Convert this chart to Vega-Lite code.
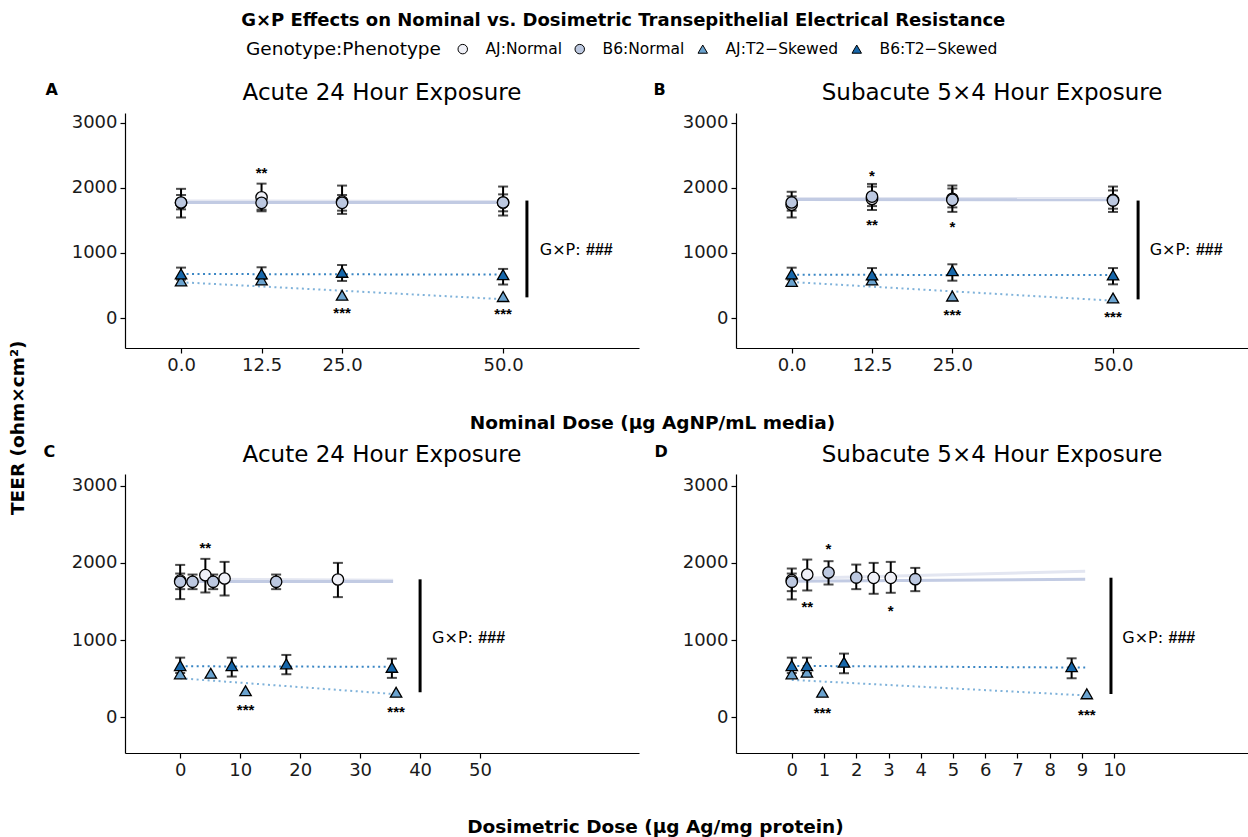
{
  "$schema": "https://vega.github.io/schema/vega-lite/v6.json",
  "padding": {"left": 8, "top": 12, "right": 0, "bottom": 0},
  "background": "white",
  "title": {"text": "G×P Effects on Nominal vs. Dosimetric Transepithelial Electrical Resistance", "fontSize": 18, "fontWeight": "bold", "anchor": "middle", "offset": 11, "dx": -5, "color": "black"},
  "datasets": {
    "pts": [
      {"p": "A", "g": "AJ:Normal", "x": 0, "y": 1770, "lo": 1545, "hi": 1985},
      {"p": "A", "g": "AJ:Normal", "x": 12.5, "y": 1855, "lo": 1640, "hi": 2065},
      {"p": "A", "g": "AJ:Normal", "x": 25, "y": 1790, "lo": 1600, "hi": 2035},
      {"p": "A", "g": "AJ:Normal", "x": 50, "y": 1775, "lo": 1575, "hi": 2020},
      {"p": "A", "g": "B6:Normal", "x": 0, "y": 1775, "lo": 1670, "hi": 1890},
      {"p": "A", "g": "B6:Normal", "x": 12.5, "y": 1770, "lo": 1665, "hi": 1880},
      {"p": "A", "g": "B6:Normal", "x": 25, "y": 1770, "lo": 1650, "hi": 1890},
      {"p": "A", "g": "B6:Normal", "x": 50, "y": 1775, "lo": 1640, "hi": 1900},
      {"p": "A", "g": "AJ:T2−Skewed", "x": 0, "y": 570},
      {"p": "A", "g": "AJ:T2−Skewed", "x": 12.5, "y": 585},
      {"p": "A", "g": "AJ:T2−Skewed", "x": 25, "y": 350},
      {"p": "A", "g": "AJ:T2−Skewed", "x": 50, "y": 330},
      {"p": "A", "g": "B6:T2−Skewed", "x": 0, "y": 677, "lo": 590, "hi": 775},
      {"p": "A", "g": "B6:T2−Skewed", "x": 12.5, "y": 677, "lo": 600, "hi": 780},
      {"p": "A", "g": "B6:T2−Skewed", "x": 25, "y": 703, "lo": 570, "hi": 815},
      {"p": "A", "g": "B6:T2−Skewed", "x": 50, "y": 667, "lo": 515, "hi": 755},

      {"p": "B", "g": "AJ:Normal", "x": 0, "y": 1740, "lo": 1545, "hi": 1940},
      {"p": "B", "g": "AJ:Normal", "x": 12.5, "y": 1830, "lo": 1720, "hi": 2020},
      {"p": "B", "g": "AJ:Normal", "x": 25, "y": 1831, "lo": 1631, "hi": 2036},
      {"p": "B", "g": "AJ:Normal", "x": 50, "y": 1815, "lo": 1630, "hi": 2020},
      {"p": "B", "g": "B6:Normal", "x": 0, "y": 1775, "lo": 1650, "hi": 1870},
      {"p": "B", "g": "B6:Normal", "x": 12.5, "y": 1866, "lo": 1660, "hi": 2060},
      {"p": "B", "g": "B6:Normal", "x": 25, "y": 1815, "lo": 1700, "hi": 1990},
      {"p": "B", "g": "B6:Normal", "x": 50, "y": 1805, "lo": 1680, "hi": 1960},
      {"p": "B", "g": "AJ:T2−Skewed", "x": 0, "y": 562},
      {"p": "B", "g": "AJ:T2−Skewed", "x": 12.5, "y": 585},
      {"p": "B", "g": "AJ:T2−Skewed", "x": 25, "y": 338},
      {"p": "B", "g": "AJ:T2−Skewed", "x": 50, "y": 308},
      {"p": "B", "g": "B6:T2−Skewed", "x": 0, "y": 677, "lo": 590, "hi": 774},
      {"p": "B", "g": "B6:T2−Skewed", "x": 12.5, "y": 662, "lo": 590, "hi": 768},
      {"p": "B", "g": "B6:T2−Skewed", "x": 25, "y": 728, "lo": 574, "hi": 826},
      {"p": "B", "g": "B6:T2−Skewed", "x": 50, "y": 662, "lo": 518, "hi": 768},

      {"p": "C", "g": "AJ:Normal", "x": 0, "y": 1770, "lo": 1531, "hi": 1974},
      {"p": "C", "g": "AJ:Normal", "x": 4.2, "y": 1841, "lo": 1617, "hi": 2052},
      {"p": "C", "g": "AJ:Normal", "x": 7.4, "y": 1798, "lo": 1578, "hi": 2013},
      {"p": "C", "g": "AJ:Normal", "x": 26.3, "y": 1785, "lo": 1557, "hi": 2000},
      {"p": "C", "g": "B6:Normal", "x": 0, "y": 1755, "lo": 1660, "hi": 1862},
      {"p": "C", "g": "B6:Normal", "x": 2.06, "y": 1755, "lo": 1660, "hi": 1849},
      {"p": "C", "g": "B6:Normal", "x": 5.5, "y": 1755, "lo": 1660, "hi": 1849},
      {"p": "C", "g": "B6:Normal", "x": 16.0, "y": 1755, "lo": 1660, "hi": 1849},
      {"p": "C", "g": "AJ:T2−Skewed", "x": 0, "y": 564},
      {"p": "C", "g": "AJ:T2−Skewed", "x": 5.1, "y": 572},
      {"p": "C", "g": "AJ:T2−Skewed", "x": 10.9, "y": 345},
      {"p": "C", "g": "AJ:T2−Skewed", "x": 36.0, "y": 326},
      {"p": "C", "g": "B6:T2−Skewed", "x": 0, "y": 671, "lo": 575, "hi": 774},
      {"p": "C", "g": "B6:T2−Skewed", "x": 8.6, "y": 671, "lo": 529, "hi": 774},
      {"p": "C", "g": "B6:T2−Skewed", "x": 17.7, "y": 693, "lo": 559, "hi": 809},
      {"p": "C", "g": "B6:T2−Skewed", "x": 35.3, "y": 649, "lo": 512, "hi": 761},

      {"p": "D", "g": "AJ:Normal", "x": 0, "y": 1776, "lo": 1527, "hi": 1927},
      {"p": "D", "g": "AJ:Normal", "x": 0.48, "y": 1849, "lo": 1643, "hi": 2043},
      {"p": "D", "g": "AJ:Normal", "x": 2.54, "y": 1806, "lo": 1600, "hi": 2000},
      {"p": "D", "g": "AJ:Normal", "x": 3.07, "y": 1806, "lo": 1613, "hi": 2013},
      {"p": "D", "g": "B6:Normal", "x": 0, "y": 1755, "lo": 1634, "hi": 1862},
      {"p": "D", "g": "B6:Normal", "x": 1.14, "y": 1875, "lo": 1720, "hi": 2022},
      {"p": "D", "g": "B6:Normal", "x": 2.0, "y": 1810, "lo": 1660, "hi": 1978},
      {"p": "D", "g": "B6:Normal", "x": 3.83, "y": 1789, "lo": 1634, "hi": 1935},
      {"p": "D", "g": "AJ:T2−Skewed", "x": 0, "y": 564},
      {"p": "D", "g": "AJ:T2−Skewed", "x": 0.47, "y": 585},
      {"p": "D", "g": "AJ:T2−Skewed", "x": 0.95, "y": 326},
      {"p": "D", "g": "AJ:T2−Skewed", "x": 9.15, "y": 306},
      {"p": "D", "g": "B6:T2−Skewed", "x": 0, "y": 671, "lo": 575, "hi": 774},
      {"p": "D", "g": "B6:T2−Skewed", "x": 0.47, "y": 671, "lo": 575, "hi": 774},
      {"p": "D", "g": "B6:T2−Skewed", "x": 1.62, "y": 714, "lo": 572, "hi": 826},
      {"p": "D", "g": "B6:T2−Skewed", "x": 8.68, "y": 658, "lo": 507, "hi": 765}
    ],
    "lines": [
      {"p": "A", "grp": "AJ:Normal", "x": 0, "y": 1800}, {"p": "A", "grp": "AJ:Normal", "x": 50, "y": 1790},
      {"p": "A", "grp": "B6:Normal", "x": 0, "y": 1775}, {"p": "A", "grp": "B6:Normal", "x": 50, "y": 1775},
      {"p": "A", "grp": "AJ:T2−Skewed", "x": 0, "y": 550}, {"p": "A", "grp": "AJ:T2−Skewed", "x": 50, "y": 290},
      {"p": "A", "grp": "B6:T2−Skewed", "x": 0, "y": 677}, {"p": "A", "grp": "B6:T2−Skewed", "x": 50, "y": 667},
      {"p": "B", "grp": "AJ:Normal", "x": 0, "y": 1835}, {"p": "B", "grp": "AJ:Normal", "x": 50, "y": 1835},
      {"p": "B", "grp": "B6:Normal", "x": 0, "y": 1822}, {"p": "B", "grp": "B6:Normal", "x": 50, "y": 1818},
      {"p": "B", "grp": "AJ:T2−Skewed", "x": 0, "y": 554}, {"p": "B", "grp": "AJ:T2−Skewed", "x": 50, "y": 267},
      {"p": "B", "grp": "B6:T2−Skewed", "x": 0, "y": 664}, {"p": "B", "grp": "B6:T2−Skewed", "x": 50, "y": 662},
      {"p": "C", "grp": "AJ:Normal", "x": 0, "y": 1790}, {"p": "C", "grp": "AJ:Normal", "x": 35.5, "y": 1775},
      {"p": "C", "grp": "B6:Normal", "x": 0, "y": 1760}, {"p": "C", "grp": "B6:Normal", "x": 35.5, "y": 1760},
      {"p": "C", "grp": "AJ:T2−Skewed", "x": 0, "y": 507}, {"p": "C", "grp": "AJ:T2−Skewed", "x": 36, "y": 301},
      {"p": "C", "grp": "B6:T2−Skewed", "x": 0, "y": 662}, {"p": "C", "grp": "B6:T2−Skewed", "x": 35.5, "y": 655},
      {"p": "D", "grp": "AJ:Normal", "x": 0, "y": 1798}, {"p": "D", "grp": "AJ:Normal", "x": 9.1, "y": 1892},
      {"p": "D", "grp": "B6:Normal", "x": 0, "y": 1763}, {"p": "D", "grp": "B6:Normal", "x": 9.1, "y": 1789},
      {"p": "D", "grp": "AJ:T2−Skewed", "x": 0, "y": 486}, {"p": "D", "grp": "AJ:T2−Skewed", "x": 9.15, "y": 284},
      {"p": "D", "grp": "B6:T2−Skewed", "x": 0, "y": 667}, {"p": "D", "grp": "B6:T2−Skewed", "x": 9.1, "y": 645}
    ],
    "gxp": [
      {"p": "A", "bx": 53.7, "b1": 318, "b2": 1805, "tx": 55.7, "ty": 1046, "t1": "G×P:", "t2": "###"},
      {"p": "B", "bx": 53.9, "b1": 287, "b2": 1805, "tx": 55.7, "ty": 1046, "t1": "G×P:", "t2": "###"},
      {"p": "C", "bx": 40, "b1": 326, "b2": 1787, "tx": 42, "ty": 1032, "t1": "G×P:", "t2": "###"},
      {"p": "D", "bx": 9.9, "b1": 303, "b2": 1808, "tx": 10.25, "ty": 1032, "t1": "G×P:", "t2": "###"}
    ],
    "sig": [
      {"p": "A", "x": 12.5, "y": 2290, "s": "**"},
      {"p": "A", "x": 25, "y": 138, "s": "***"},
      {"p": "A", "x": 50, "y": 123, "s": "***"},
      {"p": "B", "x": 12.5, "y": 2251, "s": "*"},
      {"p": "B", "x": 12.5, "y": 1497, "s": "**"},
      {"p": "B", "x": 25, "y": 1456, "s": "*"},
      {"p": "B", "x": 25, "y": 112, "s": "***"},
      {"p": "B", "x": 50, "y": 72, "s": "***"},
      {"p": "C", "x": 4.2, "y": 2249, "s": "**"},
      {"p": "C", "x": 10.9, "y": 142, "s": "***"},
      {"p": "C", "x": 36, "y": 120, "s": "***"},
      {"p": "D", "x": 0.48, "y": 1475, "s": "**"},
      {"p": "D", "x": 1.14, "y": 2228, "s": "*"},
      {"p": "D", "x": 3.07, "y": 1432, "s": "*"},
      {"p": "D", "x": 0.95, "y": 112, "s": "***"},
      {"p": "D", "x": 9.15, "y": 86, "s": "***"}
    ]
  },
  "vconcat": [
    {
      "title": {"text": "TEER (ohm×cm²)", "orient": "left", "fontSize": 18.5, "fontWeight": "bold", "anchor": "middle", "offset": 16, "dx": 31, "color": "black"},
      "spacing": 10,
      "vconcat": [
        {
          "title": {"text": "Nominal Dose (μg AgNP/mL media)", "orient": "bottom", "fontSize": 18.5, "fontWeight": "bold", "anchor": "middle", "offset": 40, "dx": 6, "color": "black"},
          "bounds": "flush",
          "spacing": 97,
          "hconcat": [
            {
              "width": 514, "height": 235,
              "title": {"text": "Acute 24 Hour Exposure"},
              "layer": [
                {"data": {"name": "lines"}, "transform": [{"filter": "datum.p === 'A' && indexof(datum.grp, 'Normal') >= 0"}],
                 "mark": {"type": "line", "strokeWidth": 3},
                 "encoding": {
                   "x": {"field": "x", "type": "quantitative", "scale": {"domain": [-8.7, 71.1], "nice": false, "zero": false}, "axis": {"values": [0, 12.5, 25, 50], "format": ".1f", "title": null}},
                   "y": {"field": "y", "type": "quantitative", "scale": {"domain": [-460, 3150], "nice": false, "zero": false}, "axis": {"values": [0, 1000, 2000, 3000], "format": "d", "title": "A", "titleX": -80, "titleY": -19}},
                   "stroke": {"field": "grp", "type": "nominal", "scale": {"range": ["#e3e6f1", "#7fb2da", "#c2cbe3", "#3a86c4"]}, "legend": null}
                 }},
                {"data": {"name": "lines"}, "transform": [{"filter": "datum.p === 'A' && indexof(datum.grp, 'T2') >= 0"}],
                 "mark": {"type": "line", "strokeWidth": 2, "strokeDash": [2, 3.5]},
                 "encoding": {"x": {"field": "x", "type": "quantitative"}, "y": {"field": "y", "type": "quantitative"}, "stroke": {"field": "grp", "type": "nominal", "legend": null}}},
                {"data": {"name": "gxp"}, "transform": [{"filter": "datum.p === 'A'"}],
                 "mark": {"type": "rule", "strokeWidth": 3, "color": "black"},
                 "encoding": {"x": {"field": "bx", "type": "quantitative"}, "y": {"field": "b1", "type": "quantitative"}, "y2": {"field": "b2"}}},
                {"data": {"name": "gxp"}, "transform": [{"filter": "datum.p === 'A'"}],
                 "mark": {"type": "text", "fontSize": 16, "align": "left", "baseline": "middle", "color": "black"},
                 "encoding": {"x": {"field": "tx", "type": "quantitative"}, "y": {"field": "ty", "type": "quantitative"}, "text": {"field": "t1"}}},
                {"data": {"name": "gxp"}, "transform": [{"filter": "datum.p === 'A'"}],
                 "mark": {"type": "text", "font": "Liberation Sans", "fontSize": 16, "fontWeight": "bold", "fontStyle": "italic", "align": "left", "baseline": "middle", "dx": 46, "color": "black"},
                 "encoding": {"x": {"field": "tx", "type": "quantitative"}, "y": {"field": "ty", "type": "quantitative"}, "text": {"field": "t2"}}},
                {"data": {"name": "pts"}, "transform": [{"filter": "datum.p === 'A' && datum.lo != null"}],
                 "mark": {"type": "rule", "strokeWidth": 2, "color": "black"},
                 "encoding": {"x": {"field": "x", "type": "quantitative"}, "y": {"field": "lo", "type": "quantitative"}, "y2": {"field": "hi"}}},
                {"data": {"name": "pts"}, "transform": [{"filter": "datum.p === 'A' && datum.lo != null"}],
                 "mark": {"type": "tick", "orient": "horizontal", "size": 10, "thickness": 2, "color": "black"},
                 "encoding": {"x": {"field": "x", "type": "quantitative"}, "y": {"field": "lo", "type": "quantitative"}}},
                {"data": {"name": "pts"}, "transform": [{"filter": "datum.p === 'A' && datum.lo != null"}],
                 "mark": {"type": "tick", "orient": "horizontal", "size": 10, "thickness": 2, "color": "black"},
                 "encoding": {"x": {"field": "x", "type": "quantitative"}, "y": {"field": "hi", "type": "quantitative"}}},
                {"data": {"name": "pts"}, "transform": [{"filter": "datum.p === 'A'"}],
                 "mark": {"type": "point", "filled": true, "size": 130, "stroke": "black", "strokeWidth": 1.3, "opacity": 1},
                 "encoding": {
                   "x": {"field": "x", "type": "quantitative"}, "y": {"field": "y", "type": "quantitative"},
                   "fill": {"field": "g", "type": "nominal", "title": "Genotype:Phenotype", "scale": {"domain": ["AJ:Normal", "B6:Normal", "AJ:T2−Skewed", "B6:T2−Skewed"], "range": ["#eff0f7", "#bcc8e0", "#6ba3cf", "#1767aa"]}, "legend": {"symbolStrokeColor": "black", "symbolStrokeWidth": 1, "encode": {"symbols": {"update": {"stroke": {"value": "black"}, "strokeWidth": {"value": 1}}}}}},
                   "shape": {"field": "g", "type": "nominal", "title": "Genotype:Phenotype", "scale": {"domain": ["AJ:Normal", "B6:Normal", "AJ:T2−Skewed", "B6:T2−Skewed"], "range": ["circle", "circle", "triangle-up", "triangle-up"]}}
                 }},
                {"data": {"name": "sig"}, "transform": [{"filter": "datum.p === 'A'"}],
                 "mark": {"type": "text", "font": "Liberation Sans", "fontSize": 15, "fontWeight": "bold", "baseline": "middle", "dy": 4, "color": "black"},
                 "encoding": {"x": {"field": "x", "type": "quantitative"}, "y": {"field": "y", "type": "quantitative"}, "text": {"field": "s"}}}
              ]
            },
            {
              "width": 512, "height": 235,
              "title": {"text": "Subacute 5×4 Hour Exposure"},
              "layer": [
                {"data": {"name": "lines"}, "transform": [{"filter": "datum.p === 'B' && indexof(datum.grp, 'Normal') >= 0"}],
                 "mark": {"type": "line", "strokeWidth": 3},
                 "encoding": {
                   "x": {"field": "x", "type": "quantitative", "scale": {"domain": [-8.66, 71.0], "nice": false, "zero": false}, "axis": {"values": [0, 12.5, 25, 50], "format": ".1f", "title": null}},
                   "y": {"field": "y", "type": "quantitative", "scale": {"domain": [-460, 3150], "nice": false, "zero": false}, "axis": {"values": [0, 1000, 2000, 3000], "format": "d", "title": "B", "titleX": -83, "titleY": -19}},
                   "stroke": {"field": "grp", "type": "nominal", "legend": null}
                 }},
                {"data": {"name": "lines"}, "transform": [{"filter": "datum.p === 'B' && indexof(datum.grp, 'T2') >= 0"}],
                 "mark": {"type": "line", "strokeWidth": 2, "strokeDash": [2, 3.5]},
                 "encoding": {"x": {"field": "x", "type": "quantitative"}, "y": {"field": "y", "type": "quantitative"}, "stroke": {"field": "grp", "type": "nominal", "legend": null}}},
                {"data": {"name": "gxp"}, "transform": [{"filter": "datum.p === 'B'"}],
                 "mark": {"type": "rule", "strokeWidth": 3, "color": "black"},
                 "encoding": {"x": {"field": "bx", "type": "quantitative"}, "y": {"field": "b1", "type": "quantitative"}, "y2": {"field": "b2"}}},
                {"data": {"name": "gxp"}, "transform": [{"filter": "datum.p === 'B'"}],
                 "mark": {"type": "text", "fontSize": 16, "align": "left", "baseline": "middle", "color": "black"},
                 "encoding": {"x": {"field": "tx", "type": "quantitative"}, "y": {"field": "ty", "type": "quantitative"}, "text": {"field": "t1"}}},
                {"data": {"name": "gxp"}, "transform": [{"filter": "datum.p === 'B'"}],
                 "mark": {"type": "text", "font": "Liberation Sans", "fontSize": 16, "fontWeight": "bold", "fontStyle": "italic", "align": "left", "baseline": "middle", "dx": 46, "color": "black"},
                 "encoding": {"x": {"field": "tx", "type": "quantitative"}, "y": {"field": "ty", "type": "quantitative"}, "text": {"field": "t2"}}},
                {"data": {"name": "pts"}, "transform": [{"filter": "datum.p === 'B' && datum.lo != null"}],
                 "mark": {"type": "rule", "strokeWidth": 2, "color": "black"},
                 "encoding": {"x": {"field": "x", "type": "quantitative"}, "y": {"field": "lo", "type": "quantitative"}, "y2": {"field": "hi"}}},
                {"data": {"name": "pts"}, "transform": [{"filter": "datum.p === 'B' && datum.lo != null"}],
                 "mark": {"type": "tick", "orient": "horizontal", "size": 10, "thickness": 2, "color": "black"},
                 "encoding": {"x": {"field": "x", "type": "quantitative"}, "y": {"field": "lo", "type": "quantitative"}}},
                {"data": {"name": "pts"}, "transform": [{"filter": "datum.p === 'B' && datum.lo != null"}],
                 "mark": {"type": "tick", "orient": "horizontal", "size": 10, "thickness": 2, "color": "black"},
                 "encoding": {"x": {"field": "x", "type": "quantitative"}, "y": {"field": "hi", "type": "quantitative"}}},
                {"data": {"name": "pts"}, "transform": [{"filter": "datum.p === 'B'"}],
                 "mark": {"type": "point", "filled": true, "size": 130, "stroke": "black", "strokeWidth": 1.3, "opacity": 1},
                 "encoding": {
                   "x": {"field": "x", "type": "quantitative"}, "y": {"field": "y", "type": "quantitative"},
                   "fill": {"field": "g", "type": "nominal", "title": "Genotype:Phenotype"},
                   "shape": {"field": "g", "type": "nominal", "title": "Genotype:Phenotype"}
                 }},
                {"data": {"name": "sig"}, "transform": [{"filter": "datum.p === 'B'"}],
                 "mark": {"type": "text", "font": "Liberation Sans", "fontSize": 15, "fontWeight": "bold", "baseline": "middle", "dy": 4, "color": "black"},
                 "encoding": {"x": {"field": "x", "type": "quantitative"}, "y": {"field": "y", "type": "quantitative"}, "text": {"field": "s"}}}
              ]
            }
          ]
        },
        {
          "title": {"text": "Dosimetric Dose (μg Ag/mg protein)", "orient": "bottom", "fontSize": 18.5, "fontWeight": "bold", "anchor": "middle", "offset": 39, "dx": 10, "color": "black"},
          "bounds": "flush",
          "spacing": 97,
          "hconcat": [
            {
              "width": 514, "height": 279,
              "title": {"text": "Acute 24 Hour Exposure"},
              "layer": [
                {"data": {"name": "lines"}, "transform": [{"filter": "datum.p === 'C' && indexof(datum.grp, 'Normal') >= 0"}],
                 "mark": {"type": "line", "strokeWidth": 3},
                 "encoding": {
                   "x": {"field": "x", "type": "quantitative", "scale": {"domain": [-9.2, 76.5], "nice": false, "zero": false}, "axis": {"values": [0, 10, 20, 30, 40, 50], "format": "d", "title": null}},
                   "y": {"field": "y", "type": "quantitative", "scale": {"domain": [-460, 3150], "nice": false, "zero": false}, "axis": {"values": [0, 1000, 2000, 3000], "format": "d", "title": "C", "titleX": -82, "titleY": -18}},
                   "stroke": {"field": "grp", "type": "nominal", "legend": null}
                 }},
                {"data": {"name": "lines"}, "transform": [{"filter": "datum.p === 'C' && indexof(datum.grp, 'T2') >= 0"}],
                 "mark": {"type": "line", "strokeWidth": 2, "strokeDash": [2, 3.5]},
                 "encoding": {"x": {"field": "x", "type": "quantitative"}, "y": {"field": "y", "type": "quantitative"}, "stroke": {"field": "grp", "type": "nominal", "legend": null}}},
                {"data": {"name": "gxp"}, "transform": [{"filter": "datum.p === 'C'"}],
                 "mark": {"type": "rule", "strokeWidth": 3, "color": "black"},
                 "encoding": {"x": {"field": "bx", "type": "quantitative"}, "y": {"field": "b1", "type": "quantitative"}, "y2": {"field": "b2"}}},
                {"data": {"name": "gxp"}, "transform": [{"filter": "datum.p === 'C'"}],
                 "mark": {"type": "text", "fontSize": 16, "align": "left", "baseline": "middle", "color": "black"},
                 "encoding": {"x": {"field": "tx", "type": "quantitative"}, "y": {"field": "ty", "type": "quantitative"}, "text": {"field": "t1"}}},
                {"data": {"name": "gxp"}, "transform": [{"filter": "datum.p === 'C'"}],
                 "mark": {"type": "text", "font": "Liberation Sans", "fontSize": 16, "fontWeight": "bold", "fontStyle": "italic", "align": "left", "baseline": "middle", "dx": 46, "color": "black"},
                 "encoding": {"x": {"field": "tx", "type": "quantitative"}, "y": {"field": "ty", "type": "quantitative"}, "text": {"field": "t2"}}},
                {"data": {"name": "pts"}, "transform": [{"filter": "datum.p === 'C' && datum.lo != null"}],
                 "mark": {"type": "rule", "strokeWidth": 2, "color": "black"},
                 "encoding": {"x": {"field": "x", "type": "quantitative"}, "y": {"field": "lo", "type": "quantitative"}, "y2": {"field": "hi"}}},
                {"data": {"name": "pts"}, "transform": [{"filter": "datum.p === 'C' && datum.lo != null"}],
                 "mark": {"type": "tick", "orient": "horizontal", "size": 10, "thickness": 2, "color": "black"},
                 "encoding": {"x": {"field": "x", "type": "quantitative"}, "y": {"field": "lo", "type": "quantitative"}}},
                {"data": {"name": "pts"}, "transform": [{"filter": "datum.p === 'C' && datum.lo != null"}],
                 "mark": {"type": "tick", "orient": "horizontal", "size": 10, "thickness": 2, "color": "black"},
                 "encoding": {"x": {"field": "x", "type": "quantitative"}, "y": {"field": "hi", "type": "quantitative"}}},
                {"data": {"name": "pts"}, "transform": [{"filter": "datum.p === 'C'"}],
                 "mark": {"type": "point", "filled": true, "size": 130, "stroke": "black", "strokeWidth": 1.3, "opacity": 1},
                 "encoding": {
                   "x": {"field": "x", "type": "quantitative"}, "y": {"field": "y", "type": "quantitative"},
                   "fill": {"field": "g", "type": "nominal", "title": "Genotype:Phenotype"},
                   "shape": {"field": "g", "type": "nominal", "title": "Genotype:Phenotype"}
                 }},
                {"data": {"name": "sig"}, "transform": [{"filter": "datum.p === 'C'"}],
                 "mark": {"type": "text", "font": "Liberation Sans", "fontSize": 15, "fontWeight": "bold", "baseline": "middle", "dy": 4, "color": "black"},
                 "encoding": {"x": {"field": "x", "type": "quantitative"}, "y": {"field": "y", "type": "quantitative"}, "text": {"field": "s"}}}
              ]
            },
            {
              "width": 512, "height": 279,
              "title": {"text": "Subacute 5×4 Hour Exposure"},
              "layer": [
                {"data": {"name": "lines"}, "transform": [{"filter": "datum.p === 'D' && indexof(datum.grp, 'Normal') >= 0"}],
                 "mark": {"type": "line", "strokeWidth": 3},
                 "encoding": {
                   "x": {"field": "x", "type": "quantitative", "scale": {"domain": [-1.73, 14.15], "nice": false, "zero": false}, "axis": {"values": [0, 1, 2, 3, 4, 5, 6, 7, 8, 9, 10], "format": "d", "title": null}},
                   "y": {"field": "y", "type": "quantitative", "scale": {"domain": [-460, 3150], "nice": false, "zero": false}, "axis": {"values": [0, 1000, 2000, 3000], "format": "d", "title": "D", "titleX": -82, "titleY": -18}},
                   "stroke": {"field": "grp", "type": "nominal", "legend": null}
                 }},
                {"data": {"name": "lines"}, "transform": [{"filter": "datum.p === 'D' && indexof(datum.grp, 'T2') >= 0"}],
                 "mark": {"type": "line", "strokeWidth": 2, "strokeDash": [2, 3.5]},
                 "encoding": {"x": {"field": "x", "type": "quantitative"}, "y": {"field": "y", "type": "quantitative"}, "stroke": {"field": "grp", "type": "nominal", "legend": null}}},
                {"data": {"name": "gxp"}, "transform": [{"filter": "datum.p === 'D'"}],
                 "mark": {"type": "rule", "strokeWidth": 3, "color": "black"},
                 "encoding": {"x": {"field": "bx", "type": "quantitative"}, "y": {"field": "b1", "type": "quantitative"}, "y2": {"field": "b2"}}},
                {"data": {"name": "gxp"}, "transform": [{"filter": "datum.p === 'D'"}],
                 "mark": {"type": "text", "fontSize": 16, "align": "left", "baseline": "middle", "color": "black"},
                 "encoding": {"x": {"field": "tx", "type": "quantitative"}, "y": {"field": "ty", "type": "quantitative"}, "text": {"field": "t1"}}},
                {"data": {"name": "gxp"}, "transform": [{"filter": "datum.p === 'D'"}],
                 "mark": {"type": "text", "font": "Liberation Sans", "fontSize": 16, "fontWeight": "bold", "fontStyle": "italic", "align": "left", "baseline": "middle", "dx": 46, "color": "black"},
                 "encoding": {"x": {"field": "tx", "type": "quantitative"}, "y": {"field": "ty", "type": "quantitative"}, "text": {"field": "t2"}}},
                {"data": {"name": "pts"}, "transform": [{"filter": "datum.p === 'D' && datum.lo != null"}],
                 "mark": {"type": "rule", "strokeWidth": 2, "color": "black"},
                 "encoding": {"x": {"field": "x", "type": "quantitative"}, "y": {"field": "lo", "type": "quantitative"}, "y2": {"field": "hi"}}},
                {"data": {"name": "pts"}, "transform": [{"filter": "datum.p === 'D' && datum.lo != null"}],
                 "mark": {"type": "tick", "orient": "horizontal", "size": 10, "thickness": 2, "color": "black"},
                 "encoding": {"x": {"field": "x", "type": "quantitative"}, "y": {"field": "lo", "type": "quantitative"}}},
                {"data": {"name": "pts"}, "transform": [{"filter": "datum.p === 'D' && datum.lo != null"}],
                 "mark": {"type": "tick", "orient": "horizontal", "size": 10, "thickness": 2, "color": "black"},
                 "encoding": {"x": {"field": "x", "type": "quantitative"}, "y": {"field": "hi", "type": "quantitative"}}},
                {"data": {"name": "pts"}, "transform": [{"filter": "datum.p === 'D'"}],
                 "mark": {"type": "point", "filled": true, "size": 130, "stroke": "black", "strokeWidth": 1.3, "opacity": 1},
                 "encoding": {
                   "x": {"field": "x", "type": "quantitative"}, "y": {"field": "y", "type": "quantitative"},
                   "fill": {"field": "g", "type": "nominal", "title": "Genotype:Phenotype"},
                   "shape": {"field": "g", "type": "nominal", "title": "Genotype:Phenotype"}
                 }},
                {"data": {"name": "sig"}, "transform": [{"filter": "datum.p === 'D'"}],
                 "mark": {"type": "text", "font": "Liberation Sans", "fontSize": 15, "fontWeight": "bold", "baseline": "middle", "dy": 4, "color": "black"},
                 "encoding": {"x": {"field": "x", "type": "quantitative"}, "y": {"field": "y", "type": "quantitative"}, "text": {"field": "s"}}}
              ]
            }
          ]
        }
      ]
    }
  ],
  "resolve": {"scale": {"fill": "shared", "shape": "shared", "stroke": "shared"}},
  "config": {
    "font": "DejaVu Sans",
    "view": {"stroke": null},
    "axis": {"grid": false, "domainColor": "black", "domainWidth": 1.2, "tickColor": "black", "tickWidth": 1.2, "tickSize": 5, "labelFontSize": 18, "labelColor": "#1a1a1a", "labelPadding": 3, "labelFlush": false, "labelOverlap": false, "titleAngle": 0, "titleFontSize": 16, "titleFontWeight": "bold", "titleColor": "black", "titleAlign": "left", "titleBaseline": "alphabetic"},
    "title": {"fontSize": 23, "fontWeight": "normal", "color": "black", "offset": -24},
    "legend": {"orient": "none", "legendX": 121, "legendY": -72, "direction": "horizontal", "titleOrient": "left", "titleFontSize": 18.5, "titleFontWeight": "normal", "titleColor": "black", "titlePadding": 14, "titleLimit": 400, "labelFontSize": 15.5, "labelLimit": 300, "labelColor": "black", "labelOffset": 15, "symbolStrokeColor": "black", "symbolStrokeWidth": 1, "symbolSize": 90, "columnPadding": 10, "symbolOpacity": 1}
  }
}
